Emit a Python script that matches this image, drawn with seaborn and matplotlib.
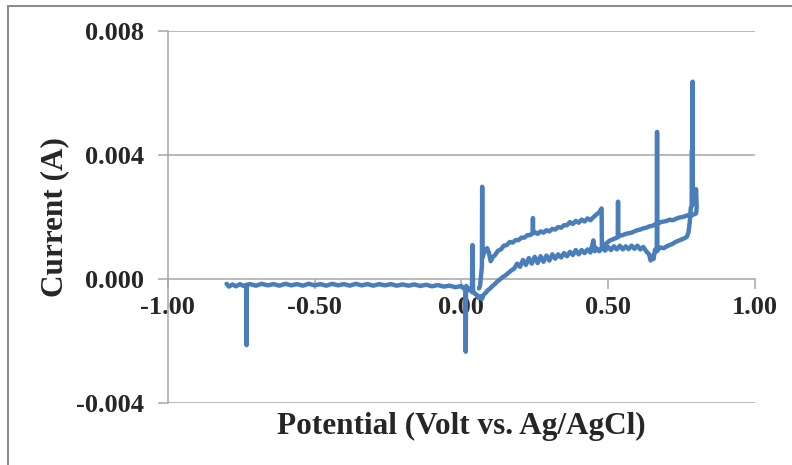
import matplotlib
matplotlib.use('Agg')
import matplotlib.pyplot as plt
import seaborn as sns
import pandas as pd
from matplotlib.patches import Rectangle
from matplotlib.ticker import FormatStrFormatter

# forward sweep -0.8 V -> 0.8 V, then back towards 0.06 V
potential = [
    -0.800, -0.792, -0.780, -0.768, -0.755, -0.742, -0.733, -0.732, -0.731, -0.720,
    -0.700, -0.680, -0.660, -0.640, -0.620, -0.600, -0.580, -0.560, -0.540, -0.520,
    -0.500, -0.480, -0.460, -0.440, -0.420, -0.400, -0.380, -0.360, -0.340, -0.320,
    -0.300, -0.280, -0.260, -0.240, -0.220, -0.200, -0.180, -0.160, -0.140, -0.120,
    -0.100, -0.080, -0.060, -0.040, -0.020, 0.000, 0.008, 0.014, 0.015, 0.016,
    0.017, 0.022, 0.030, 0.036, 0.038, 0.040, 0.046, 0.052, 0.058, 0.064,
    0.070, 0.076, 0.082, 0.090, 0.098, 0.106, 0.114, 0.122, 0.130, 0.140,
    0.150, 0.160, 0.170, 0.180, 0.190, 0.200, 0.210, 0.220, 0.230, 0.240,
    0.250, 0.260, 0.270, 0.280, 0.290, 0.300, 0.310, 0.320, 0.330, 0.340,
    0.350, 0.360, 0.370, 0.380, 0.390, 0.400, 0.410, 0.420, 0.430, 0.440,
    0.450, 0.455, 0.460, 0.470, 0.480, 0.490, 0.500, 0.510, 0.520, 0.530,
    0.540, 0.550, 0.560, 0.570, 0.580, 0.590, 0.600, 0.610, 0.620, 0.630,
    0.640, 0.645, 0.650, 0.655, 0.660, 0.666, 0.667, 0.668, 0.672, 0.680,
    0.690, 0.700, 0.710, 0.720, 0.730, 0.740, 0.750, 0.760, 0.768, 0.774,
    0.778, 0.782, 0.785, 0.786, 0.787, 0.788, 0.789, 0.792, 0.796, 0.800,
    0.802, 0.800, 0.790, 0.780, 0.770, 0.760, 0.750, 0.740, 0.730, 0.720,
    0.710, 0.700, 0.690, 0.680, 0.670, 0.660, 0.650, 0.640, 0.630, 0.620,
    0.610, 0.600, 0.590, 0.580, 0.570, 0.560, 0.550, 0.540, 0.535, 0.534,
    0.533, 0.525, 0.515, 0.505, 0.495, 0.485, 0.479, 0.478, 0.470, 0.460,
    0.450, 0.440, 0.430, 0.420, 0.410, 0.400, 0.390, 0.380, 0.370, 0.360,
    0.350, 0.340, 0.330, 0.320, 0.310, 0.300, 0.290, 0.280, 0.270, 0.260,
    0.250, 0.245, 0.244, 0.243, 0.235, 0.225, 0.215, 0.205, 0.195, 0.185,
    0.175, 0.165, 0.155, 0.145, 0.135, 0.125, 0.115, 0.108, 0.100, 0.094,
    0.088, 0.082, 0.076, 0.072, 0.071, 0.070, 0.067, 0.064, 0.060,
]
current = [
    -0.00015, -0.00024, -0.00017, -0.00023, -0.00016, -0.00022, -0.00019, -0.00213, -0.00018, -0.00016,
    -0.00021, -0.00015, -0.00020, -0.00016, -0.00021, -0.00015, -0.00020, -0.00016, -0.00021, -0.00015,
    -0.00020, -0.00016, -0.00021, -0.00015, -0.00020, -0.00016, -0.00021, -0.00015, -0.00020, -0.00016,
    -0.00021, -0.00016, -0.00020, -0.00016, -0.00021, -0.00017, -0.00021, -0.00017, -0.00022, -0.00018,
    -0.00023, -0.00019, -0.00024, -0.00021, -0.00026, -0.00022, -0.00030, -0.00030, -0.00234, -0.00030,
    -0.00022, -0.00036, -0.00030, -0.00042, 0.00110, -0.00038, -0.00047, -0.00050, -0.00060, -0.00055,
    -0.00064, -0.00050, -0.00045, -0.00036, -0.00030, -0.00022, -0.00016, -0.00008, -0.00002, 0.00006,
    0.00012, 0.00020, 0.00028, 0.00034, 0.00050, 0.00040, 0.00062, 0.00046, 0.00068, 0.00050,
    0.00072, 0.00052, 0.00074, 0.00056, 0.00076, 0.00060, 0.00080, 0.00066, 0.00080, 0.00070,
    0.00084, 0.00074, 0.00088, 0.00078, 0.00094, 0.00080, 0.00094, 0.00084, 0.00096, 0.00086,
    0.00125, 0.00090, 0.00100, 0.00090, 0.00102, 0.00092, 0.00104, 0.00094, 0.00106, 0.00096,
    0.00108, 0.00096, 0.00106, 0.00097, 0.00108, 0.00098, 0.00108, 0.00096, 0.00104, 0.00090,
    0.00080, 0.00060, 0.00075, 0.00065, 0.00095, 0.00090, 0.00475, 0.00092, 0.00098, 0.00102,
    0.00100, 0.00106, 0.00110, 0.00114, 0.00120, 0.00124, 0.00128, 0.00132, 0.00136, 0.00150,
    0.00180, 0.00230, 0.00236, 0.00416, 0.00240, 0.00637, 0.00250, 0.00260, 0.00275, 0.00290,
    0.00230, 0.00212, 0.00208, 0.00204, 0.00206, 0.00202, 0.00200, 0.00198, 0.00194, 0.00190,
    0.00192, 0.00188, 0.00186, 0.00184, 0.00180, 0.00176, 0.00172, 0.00170, 0.00166, 0.00164,
    0.00160, 0.00158, 0.00154, 0.00150, 0.00148, 0.00146, 0.00142, 0.00140, 0.00138, 0.00250,
    0.00135, 0.00132, 0.00128, 0.00124, 0.00116, 0.00108, 0.00100, 0.00228, 0.00216, 0.00208,
    0.00200, 0.00190, 0.00196, 0.00186, 0.00192, 0.00182, 0.00188, 0.00178, 0.00184, 0.00174,
    0.00174, 0.00166, 0.00168, 0.00160, 0.00162, 0.00154, 0.00158, 0.00150, 0.00154, 0.00146,
    0.00152, 0.00148, 0.00197, 0.00150, 0.00142, 0.00142, 0.00134, 0.00134, 0.00126, 0.00126,
    0.00118, 0.00120, 0.00110, 0.00108, 0.00096, 0.00092, 0.00078, 0.00072, 0.00058, 0.00085,
    0.00100, 0.00092, 0.00082, 0.00070, 0.00298, 0.00040, 0.00010, -0.00020, -0.00030,
]

x_ticks = [-1.00, -0.50, 0.00, 0.50, 1.00]
y_ticks = [-0.004, 0.000, 0.004, 0.008]

df = pd.DataFrame({'potential': potential, 'current': current})

sns.set_theme(style='white')
plt.rcParams['font.family'] = ['Liberation Serif', 'DejaVu Serif']
plt.rcParams['font.weight'] = 'bold'

fig = plt.figure(figsize=(7.92, 4.65), dpi=100)
ax = fig.add_axes([0.212, 0.133, 0.741, 0.800])

grid_col = '#a6a6a6'
for y in [-0.004, 0.004, 0.008]:
    ax.axhline(y, color=grid_col, lw=1.1, zorder=0)

sns.lineplot(data=df, x='potential', y='current', sort=False, estimator=None,
             color='#4a7ebb', lw=3.2, ax=ax, zorder=3)

ax.set_xlim(-1.0, 1.0)
ax.set_ylim(-0.004, 0.008)
ax.set_xticks(x_ticks)
ax.set_yticks(y_ticks)
ax.xaxis.set_major_formatter(FormatStrFormatter('%.2f'))
ax.yaxis.set_major_formatter(FormatStrFormatter('%.3f'))

for side in ['top', 'right']:
    ax.spines[side].set_visible(False)
ax.spines['bottom'].set_position(('data', 0))
for side in ['left', 'bottom']:
    ax.spines[side].set_color(grid_col)
    ax.spines[side].set_linewidth(1.1)

ax.tick_params(axis='x', direction='out', length=7, width=1.1, color=grid_col,
               labelsize=19, pad=5, bottom=True)
ax.tick_params(axis='y', direction='out', length=7, width=1.1, color=grid_col,
               labelsize=19, pad=10, left=True)
for lab in ax.get_xticklabels() + ax.get_yticklabels():
    lab.set_fontweight('bold')

ax.set_xlabel('')
ax.set_ylabel('Current (A)', fontsize=22.5, fontweight='bold', labelpad=5)
fig.text(0.5825, 0.082, 'Potential (Volt vs. Ag/AgCl)', fontsize=22.5,
         fontweight='bold', ha='center', va='center')

fig.add_artist(Rectangle((0.0107, -0.05), 1.2, 0.987 + 0.05, transform=fig.transFigure,
                         fill=False, edgecolor='#8c8c8c', lw=1.5, clip_on=False))

fig.savefig('out.png', dpi=100)
